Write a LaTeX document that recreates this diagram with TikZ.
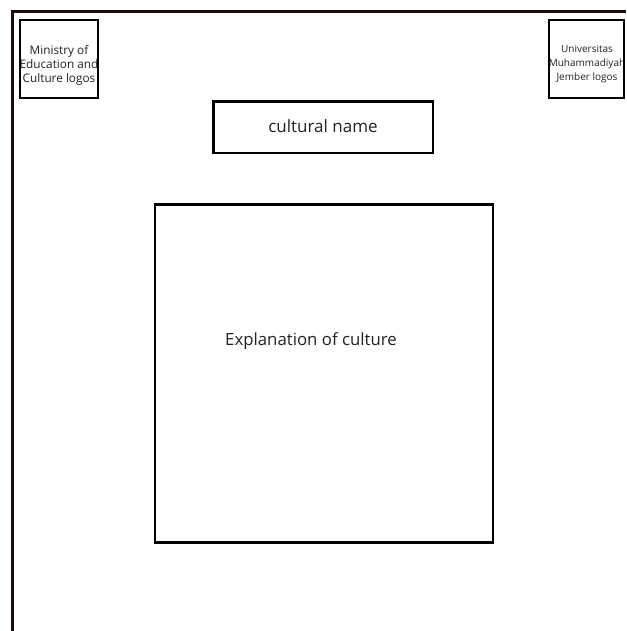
\documentclass[tikz,border=0pt]{standalone}
\usepackage{fontspec}
\setmainfont{Open Sans}
\definecolor{framec}{HTML}{1E0C0C}
\definecolor{txt}{HTML}{222222}
\begin{document}
\begin{tikzpicture}[x=1pt,y=-1pt,
  box/.style={draw=black,line width=2.8pt,fill=none},
  frameline/.style={draw=framec,line width=3pt},
  lbl/.style={text=txt,align=center,inner sep=0pt}]
\useasboundingbox (0,0) rectangle (626,631);
% frame
\draw[frameline] (12.5,631) -- (12.5,11.5) -- (626,11.5);
% left logo box
\begin{scope}
\clip (20,20) rectangle (98,98);
\node[lbl,font=\fontsize{11.8}{14}\selectfont] (lefttext) at (59,65) {Ministry of\\Education and\\Culture logos};
\end{scope}
\draw[box] (20,20) rectangle (98,98);
% right logo box
\begin{scope}
\clip (549,20) rectangle (624,98);
\node[lbl,font=\fontsize{10}{14}\selectfont] (righttext) at (587,64) {Universitas\\Muhammadiyah\\Jember logos};
\end{scope}
\draw[box] (549,20) rectangle (624,98);
% cultural name
\draw[box] (213.5,101.5) rectangle (433,153);
\node[lbl,font=\fontsize{17}{20}\selectfont] (cname) at (323,126) {cultural name};
% explanation
\draw[box] (155,204.5) rectangle (493,542.5);
\node[lbl,font=\fontsize{16.8}{20}\selectfont] (expl) at (311,341) {Explanation of culture};
\end{tikzpicture}
\end{document}
